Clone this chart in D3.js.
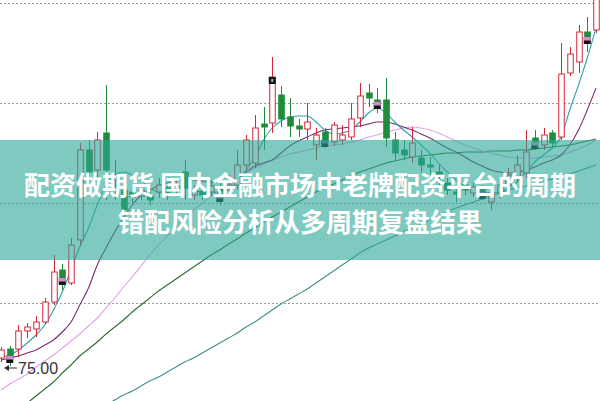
<!DOCTYPE html>
<html><head><meta charset="utf-8">
<script src="https://cdn.jsdelivr.net/npm/d3@7"></script>
<style>html,body{margin:0;padding:0;background:#fff;overflow:hidden}</style>
</head><body><svg id="c" width="600" height="401"></svg>
<script>
// candle data (price units)
const opens  = [75.8,76.7,76.7,78.5,78.7,79.4,81.4,84.6,83.3,87.6,96.6,94.6,98.3,93.6,92.6,92.4,92.0,92.0,92.4,92.8,92.6,94.4,92.1,92.5,92.4,92.8,92.6,93.1,95.1,95.3,99.2,99.3,102.1,99.9,99.0,98.7,97.1,98.4,97.4,97.6,97.9,99.8,102.3,101.6,101.6,97.6,96.6,95.9,95.8,95.1,94.4,93.3,92.4,93.1,92.3,92.8,91.4,92.3,93.1,93.8,94.3,97.8,97.1,98.3,97.9,104.3,105.4,108.4,108.6];
const highs  = [76.9,77.0,79.1,79.3,80.0,81.8,86.1,85.2,87.8,97.3,97.6,98.4,103.1,95.6,94.1,93.1,93.1,92.6,93.8,93.4,93.6,95.6,93.1,93.1,93.6,93.4,94.1,96.6,98.1,100.1,100.9,105.9,103.0,101.8,99.7,101.3,98.8,98.8,99.4,99.1,101.3,103.3,103.2,102.8,103.8,98.4,97.6,98.9,96.6,95.9,95.1,93.8,92.9,93.6,93.3,93.1,93.0,93.8,94.8,96.1,98.6,98.6,98.8,98.6,107.3,106.9,109.1,109.9,113.1];
const lows   = [75.4,75.0,75.9,77.8,77.9,79.2,81.1,82.6,83.1,87.1,92.6,93.8,91.6,91.6,90.1,91.3,91.6,91.1,91.8,91.6,92.0,91.6,91.6,91.6,92.0,91.1,92.1,92.6,94.6,94.8,96.6,98.3,98.9,97.9,97.9,97.6,95.6,96.8,97.0,97.1,97.6,98.9,100.9,100.3,96.9,95.6,95.6,95.3,94.4,94.1,93.1,92.1,91.4,92.1,91.9,91.6,90.6,91.8,92.6,93.4,93.8,96.6,96.6,96.8,97.6,104.0,104.3,106.4,108.3];
const closes = [76.6,76.0,78.5,78.9,79.4,81.4,84.4,83.8,87.1,96.6,94.4,97.6,94.6,94.1,90.6,91.9,92.6,91.6,93.1,92.3,93.0,92.8,92.6,92.1,93.0,92.1,93.1,95.1,97.6,98.8,98.9,103.9,99.7,99.0,98.7,99.4,98.1,97.6,99.1,98.1,99.7,102.0,101.8,101.4,97.8,96.3,96.1,97.3,95.1,94.9,93.6,92.6,92.2,92.6,92.9,92.4,92.3,93.1,94.1,95.1,96.4,97.4,98.1,97.3,104.2,106.2,108.4,107.9,112.6];

// moving averages
const ma5  = [75.9,76.1,76.6,77.3,78.1,79.1,80.6,82.4,84.6,86.9,88.8,91.1,93.1,94.1,94.4,94.1,93.6,92.8,92.4,92.4,92.6,92.8,92.6,92.4,92.4,92.4,92.6,93.4,94.6,95.8,97.6,98.8,99.5,99.9,100.0,100.0,99.4,98.6,98.2,98.3,98.6,99.4,100.3,100.8,100.3,99.4,98.6,97.9,97.1,96.3,95.3,94.4,93.6,93.0,92.6,92.4,92.3,92.4,92.8,93.4,94.4,95.4,96.1,96.8,97.9,100.6,103.1,105.8,108.8];
const ma10 = [75.6,75.8,76.0,76.3,76.6,77.1,77.6,78.4,79.4,81.1,82.8,85.1,86.8,88.4,89.8,91.1,92.1,92.6,93.0,93.3,93.5,93.6,93.6,93.5,93.4,93.4,93.6,93.9,94.4,95.0,95.3,95.6,96.3,97.0,97.5,97.9,98.3,98.6,98.7,98.8,98.9,99.0,99.2,99.4,99.4,99.2,98.9,98.6,98.2,97.8,97.3,96.8,96.4,95.9,95.4,95.0,94.6,94.4,94.3,94.4,94.6,94.9,95.3,95.6,96.1,97.1,98.6,100.6,102.8];
const ma20 = [72.6,73.2,73.7,74.2,74.9,75.5,76.1,76.8,77.5,78.2,79.0,79.8,80.8,81.8,82.9,83.9,85.0,86.1,87.1,88.0,88.9,89.8,90.6,91.3,92.0,92.6,93.2,93.8,94.3,94.8,95.2,95.6,95.9,96.2,96.4,96.6,96.8,97.0,97.1,97.2,97.4,97.6,97.9,98.1,98.4,98.6,98.8,98.9,98.8,98.6,98.3,97.9,97.5,97.1,96.8,96.5,96.3,96.1,95.9,95.8,95.8,95.8,95.9,96.0,96.1,96.4,96.7,97.1,97.6];
const ma30 = [69.1,69.8,70.6,71.3,72.0,72.7,73.4,74.3,75.1,76.0,76.7,77.4,78.2,78.9,79.6,80.4,81.1,81.8,82.5,83.1,83.7,84.3,84.9,85.5,86.1,86.6,87.2,87.7,88.3,88.8,89.4,89.9,90.4,90.9,91.4,91.9,92.4,92.8,93.2,93.6,94.0,94.4,94.7,95.0,95.3,95.5,95.7,95.9,96.0,96.1,96.2,96.3,96.3,96.4,96.4,96.4,96.5,96.5,96.5,96.6,96.6,96.7,96.8,96.9,97.0,97.1,97.3,97.5,97.7];
const ma60 = [65.1,65.6,66.1,66.6,67.1,67.6,68.1,68.6,69.1,69.6,70.1,70.6,71.1,71.6,72.1,72.5,73.0,73.5,73.9,74.4,74.9,75.4,75.8,76.3,76.8,77.3,77.8,78.3,78.9,79.4,80.0,80.6,81.2,81.7,82.2,82.7,83.3,83.9,84.5,85.1,85.7,86.3,86.8,87.2,87.6,88.0,88.4,88.8,89.2,89.6,90.0,90.4,90.8,91.1,91.4,91.7,92.0,92.3,92.6,92.8,93.0,93.2,93.5,93.7,93.9,94.2,94.5,94.8,95.1];

// signal markers: candle index
const markerIdx = [1,7,25,31,37,43,55,61,67];
const markerType = ["pk","pk","pk","bk","bl","pk","pu","pk","pk"];

const gridValues = [81.3, 91.3, 101.3, 111.3];
const lowLabel = "75.00";
const lowValue = 75.0;
const titleLines = ["配资做期货 国内金融市场中老牌配资平台的周期", "错配风险分析从多周期复盘结果"];

const W = 600, H = 401;
const svg = d3.select("#c");
const x = d3.scaleLinear().domain([0, opens.length - 1]).range([1, 596]);
const y = d3.scaleLinear().domain([71.5, 111.6]).range([H, 0]);

// gridlines
svg.append("g").selectAll("line").data(gridValues).join("line")
  .attr("x1", 0).attr("x2", W)
  .attr("y1", d => Math.round(y(d)) + 0.5).attr("y2", d => Math.round(y(d)) + 0.5)
  .attr("stroke", "#9a9a9a").attr("stroke-width", 1).attr("stroke-dasharray", "2,2");

// moving average lines
const mas = [
  {v: ma60, c: "#3f8f8c"},
  {v: ma30, c: "#2d6b32"},
  {v: ma20, c: "#e49ee6"},
  {v: ma10, c: "#7b2a6c"},
  {v: ma5,  c: "#2fa3a8"}
];
const line = d3.line().x((d, i) => x(i)).y(d => y(d)).curve(d3.curveMonotoneX);
svg.append("g").selectAll("path").data(mas).join("path")
  .attr("d", d => line(d.v)).attr("fill", "none")
  .attr("stroke", d => d.c).attr("stroke-width", 1.1);

// candles
const RED = "#d3283c", GREEN = "#1f8c3b";
const idx = d3.range(opens.length);
const cg = svg.append("g");
const bw = 5.5;
idx.forEach(i => {
  const up = closes[i] >= opens[i];
  const col = up ? RED : GREEN;
  const cx = Math.round(x(i)) + 0.5;
  const top = y(Math.max(opens[i], closes[i])), bot = y(Math.min(opens[i], closes[i]));
  cg.append("line").attr("x1", cx).attr("x2", cx)
    .attr("y1", y(highs[i])).attr("y2", top).attr("stroke", col);
  cg.append("line").attr("x1", cx).attr("x2", cx)
    .attr("y1", bot).attr("y2", y(lows[i])).attr("stroke", col);
  cg.append("rect").attr("x", cx - bw / 2).attr("y", top)
    .attr("width", bw).attr("height", Math.max(1.5, bot - top))
    .attr("fill", up ? "#fff" : GREEN).attr("stroke", col).attr("stroke-width", 1);
});

// markers
markerIdx.forEach((m, k) => {
  const cx = x(m), cy = y(closes[m]);
  const t = markerType[k];
  const g = svg.append("g");
  g.append("rect").attr("x", cx - 3.5).attr("y", cy).attr("width", 7).attr("height", 7).attr("fill", "#111");
  const topCol = {pk: "#d98ad6", bl: "#4b6fb0", pu: "#8a6ad0"}[t];
  if (topCol) g.append("rect").attr("x", cx - 3.5).attr("y", cy).attr("width", 7).attr("height", 3.5).attr("fill", topCol);
  if (t === "bk") g.append("rect").attr("x", cx - 1).attr("y", cy + 2).attr("width", 2).attr("height", 3).attr("fill", "#7cc");
});

// low label with arrow
const ly = y(lowValue) + 2;
svg.append("line").attr("x1", 5).attr("x2", 17).attr("y1", ly).attr("y2", ly).attr("stroke", "#333").attr("stroke-width", 1);
svg.append("path").attr("d", `M4,${ly} L9,${ly - 3} L9,${ly + 3} Z`).attr("fill", "#333");
svg.append("text").attr("x", 18).attr("y", ly).attr("dy", "0.36em")
  .attr("font-family", "Liberation Sans, Arial, sans-serif").attr("font-size", 16)
  .attr("fill", "#333").text(lowLabel);

// banner overlay
svg.append("rect").attr("x", 0).attr("y", 140).attr("width", W).attr("height", 120)
  .attr("fill", "#2aa796").attr("opacity", 0.6);
svg.append("g").selectAll("text").data(titleLines).join("text")
  .attr("x", W / 2).attr("y", (d, i) => i === 0 ? 183 : 220)
  .attr("text-anchor", "middle").attr("dominant-baseline", "central")
  .attr("font-family", "Noto Sans CJK SC, sans-serif").attr("font-weight", "bold")
  .attr("font-size", 26).attr("fill", "#fff")
  .text(d => d);
</script></body></html>
